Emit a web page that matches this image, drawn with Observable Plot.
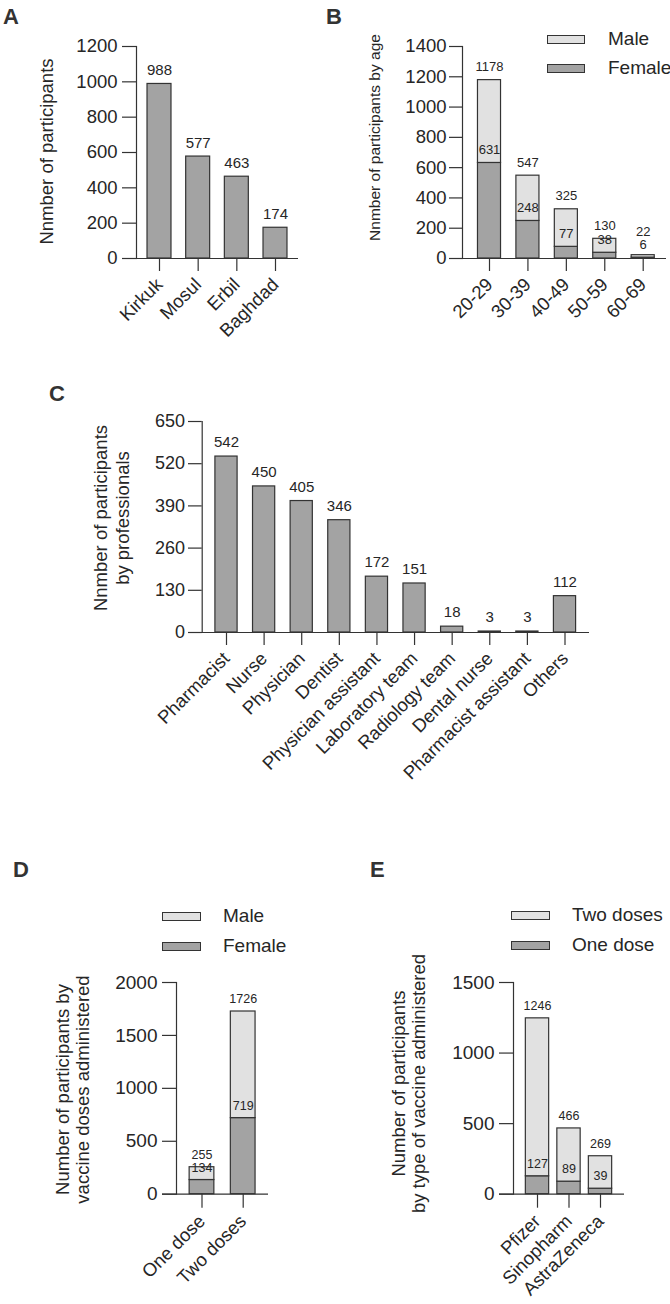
<!DOCTYPE html>
<html><head><meta charset="utf-8">
<script src="https://cdn.jsdelivr.net/npm/d3@7"></script>
<script src="https://cdn.jsdelivr.net/npm/@observablehq/plot@0.6"></script>
<style>
html,body{margin:0;padding:0;background:#fff;}
#root{position:relative;width:670px;height:1304px;overflow:hidden;font-family:"Liberation Sans",Arial,Helvetica,sans-serif;color:#262626;}
.panel{position:absolute;}
.panel svg{overflow:visible;}
.letter{position:absolute;font-weight:bold;font-size:22px;line-height:1;color:#333;}
.legitem{position:absolute;display:flex;align-items:center;white-space:nowrap;font-size:19px;height:24px;}
.sw{display:inline-block;box-sizing:border-box;border:1.2px solid #333;}
</style></head><body><div id="root"></div>
<script>
// ---------------- data ----------------
const cities = ["Kirkuk", "Mosul", "Erbil", "Baghdad"];
const cityCounts = [988, 577, 463, 174];

const ageGroups = ["20-29", "30-39", "40-49", "50-59", "60-69"];
const ageFemale = [631, 248, 77, 38, 6];
const ageMale = [547, 299, 248, 92, 16];

const professions = ["Pharmacist", "Nurse", "Physician", "Dentist", "Physician assistant", "Laboratory team", "Radiology team", "Dental nurse", "Pharmacist assistant", "Others"];
const professionCounts = [542, 450, 405, 346, 172, 151, 18, 3, 3, 112];

const doseGroups = ["One dose", "Two doses"];
const doseFemale = [134, 719];
const doseMale = [121, 1007];

const vaccines = ["Pfizer", "Sinopharm", "AstraZeneca"];
const vaccineOneDose = [127, 89, 39];
const vaccineTwoDoses = [1119, 377, 230];

const yTicksA = [0, 200, 400, 600, 800, 1000, 1200];
const yTicksB = [0, 200, 400, 600, 800, 1000, 1200, 1400];
const yTicksC = [0, 130, 260, 390, 520, 650];
const yTicksD = [0, 500, 1000, 1500, 2000];
const yTicksE = [0, 500, 1000, 1500];

// ---------------- style ----------------
const DARK = "#a3a3a3", LIGHT = "#e1e1e1", LINE = "#333333", INK = "#262626";
const FONT = '"Liberation Sans", Arial, Helvetica, sans-serif';
const root = document.getElementById("root");

function addPanel(o) {
  const rows = [];
  o.categories.forEach((c, i) => {
    o.series.forEach(s => rows.push({cat: c, series: s.name, value: s.values[i]}));
  });
  const pxPerUnit = (o.yBottom - o.yTop) / o.yMax;
  const gapUnits = 13 / pxPerUnit;
  const labels = [];
  o.categories.forEach((c, i) => {
    const total = d3.sum(o.series, s => s.values[i]);
    if (o.series.length > 1) {
      const bottom = o.series[0].values[i];
      labels.push({cat: c, y: bottom, text: String(bottom)});
      labels.push({cat: c, y: (total - bottom < gapUnits * 0.93) ? bottom + gapUnits : total, text: String(total)});
    } else {
      labels.push({cat: c, y: total, text: String(total)});
    }
  });
  const n = o.categories.length;
  const step = (o.cLast - o.cFirst) / (n - 1);
  const plot = Plot.plot({
    width: o.width, height: o.height,
    marginLeft: o.frameLeft - o.left,
    marginRight: o.left + o.width - o.frameRight,
    marginTop: o.yTop - o.top,
    marginBottom: o.top + o.height - o.yBottom,
    x: {domain: o.categories, range: [o.cFirst - o.left - step / 2, o.cLast - o.left + step / 2], paddingInner: o.pad, paddingOuter: o.pad / 2, round: false},
    y: {domain: [0, o.yMax]},
    color: {domain: o.series.map(s => s.name), range: o.series.map(s => s.fill)},
    style: {fontFamily: FONT, fontSize: o.xFont + "px", color: INK, background: "transparent", overflow: "visible"},
    marks: [
      Plot.barY(rows, {x: "cat", y: "value", fill: "series", stroke: LINE, strokeWidth: 1.2}),
      Plot.text(labels, {x: "cat", y: "y", text: "text", dy: o.labelDy, fontSize: o.labelFont, fill: INK}),
      Plot.frame({anchor: "left", stroke: LINE, strokeWidth: 1.2}),
      Plot.ruleY([0], {insetLeft: -o.yTickSize, stroke: LINE, strokeWidth: 1.2}),
      Plot.axisY(o.yTicks, {tickSize: o.yTickSize, tickPadding: o.yTickPad, tickFormat: "d", fontSize: o.yFont, label: null, stroke: LINE, strokeWidth: 1.2}),
      Plot.axisX({tickSize: o.xTickSize, tickRotate: -45, tickPadding: o.xTickPad, fontSize: o.xFont, label: null, stroke: LINE, strokeWidth: 1.2}),
      Plot.text([o.yLabel], {text: d => d, frameAnchor: "left", textAnchor: "middle", lineAnchor: "middle", rotate: -90, dx: o.yLabelX - o.frameLeft, dy: o.yLabelY - (o.yTop + o.yBottom) / 2, fontSize: o.yLabelFont, lineHeight: o.lineHeight || 1, fill: INK})
    ]
  });
  const div = document.createElement("div");
  div.className = "panel";
  div.style.left = o.left + "px";
  div.style.top = o.top + "px";
  div.appendChild(plot);
  root.appendChild(div);

  const L = document.createElement("div");
  L.className = "letter";
  L.textContent = o.letter;
  L.style.left = o.letterX + "px";
  L.style.top = (o.letterBaseline - 18.6) + "px";
  root.appendChild(L);

  if (o.legend) {
    o.legend.items.forEach(it => {
      const item = document.createElement("div");
      item.className = "legitem";
      item.style.left = o.legend.x + "px";
      item.style.top = (it.cy - 12) + "px";
      const sw = document.createElement("span");
      sw.className = "sw";
      sw.style.width = o.legend.w + "px";
      sw.style.height = o.legend.h + "px";
      sw.style.background = it.fill;
      sw.style.marginRight = o.legend.gap + "px";
      const t = document.createElement("span");
      t.textContent = it.name;
      item.appendChild(sw);
      item.appendChild(t);
      root.appendChild(item);
    });
  }
}

// Panel A
addPanel({
  letter: "A", letterX: 3, letterBaseline: 25,
  left: 0, top: 0, width: 335, height: 330,
  frameLeft: 136, frameRight: 298, yTop: 46, yBottom: 258, yMax: 1200, yTicks: yTicksA,
  categories: cities, series: [{name: "Participants", values: cityCounts, fill: DARK}],
  cFirst: 159, cLast: 275, pad: 0.38,
  labelFont: 15, labelDy: -13.5,
  yTickSize: 14, xTickSize: 13, yTickPad: 5, xTickPad: 10, yFont: 18.5, xFont: 18.5,
  yLabel: "Nnmber of participants", yLabelFont: 18.5, yLabelX: 47, yLabelY: 151
});

// Panel B
addPanel({
  letter: "B", letterX: 326, letterBaseline: 25,
  left: 335, top: 0, width: 335, height: 330,
  frameLeft: 462, frameRight: 666, yTop: 46, yBottom: 258, yMax: 1400, yTicks: yTicksB,
  categories: ageGroups,
  series: [{name: "Female", values: ageFemale, fill: DARK}, {name: "Male", values: ageMale, fill: LIGHT}],
  cFirst: 489, cLast: 642.7, pad: 0.4,
  labelFont: 13, labelDy: -13,
  yTickSize: 13, xTickSize: 13, yTickPad: 3, xTickPad: 10, yFont: 18.5, xFont: 18.5,
  yLabel: "Nnmber of participants by age", yLabelFont: 15.5, yLabelX: 375, yLabelY: 137,
  legend: {x: 547, w: 38, h: 9, gap: 23, items: [{name: "Male", fill: LIGHT, cy: 39}, {name: "Female", fill: DARK, cy: 68}]}
});

// Panel C
addPanel({
  letter: "C", letterX: 49, letterBaseline: 402,
  left: 0, top: 330, width: 670, height: 430,
  frameLeft: 201.7, frameRight: 589, yTop: 421, yBottom: 632, yMax: 650, yTicks: yTicksC,
  categories: professions, series: [{name: "Participants", values: professionCounts, fill: DARK}],
  cFirst: 226, cLast: 564.5, pad: 0.41,
  labelFont: 15, labelDy: -14,
  yTickSize: 13.7, xTickSize: 13, yTickPad: 3.5, xTickPad: 10, yFont: 18, xFont: 18.5,
  yLabel: "Nnmber of participants\nby professionals", yLabelFont: 18.5, lineHeight: 1.2, yLabelX: 110, yLabelY: 517.5
});

// Panel D
addPanel({
  letter: "D", letterX: 13, letterBaseline: 878,
  left: 0, top: 760, width: 335, height: 544,
  frameLeft: 176, frameRight: 268, yTop: 982, yBottom: 1193.7, yMax: 2000, yTicks: yTicksD,
  categories: doseGroups,
  series: [{name: "Female", values: doseFemale, fill: DARK}, {name: "Male", values: doseMale, fill: LIGHT}],
  cFirst: 201.5, cLast: 242.7, pad: 0.4,
  labelFont: 12.5, labelDy: -12.5,
  yTickSize: 14, xTickSize: 14, yTickPad: 5, xTickPad: 10, yFont: 19, xFont: 18.5,
  yLabel: "Number of participants by\nvaccine doses administered", yLabelFont: 18.5, lineHeight: 1.1, yLabelX: 72, yLabelY: 1089,
  legend: {x: 162, w: 39, h: 9, gap: 22, items: [{name: "Male", fill: LIGHT, cy: 916}, {name: "Female", fill: DARK, cy: 946}]}
});

// Panel E
addPanel({
  letter: "E", letterX: 370, letterBaseline: 878,
  left: 335, top: 760, width: 335, height: 544,
  frameLeft: 513, frameRight: 624, yTop: 982, yBottom: 1193.7, yMax: 1500, yTicks: yTicksE,
  categories: vaccines,
  series: [{name: "One dose", values: vaccineOneDose, fill: DARK}, {name: "Two doses", values: vaccineTwoDoses, fill: LIGHT}],
  cFirst: 537, cLast: 600, pad: 0.26,
  labelFont: 12.5, labelDy: -12.5,
  yTickSize: 14, xTickSize: 14, yTickPad: 5, xTickPad: 10, yFont: 19, xFont: 18.5,
  yLabel: "Number of participants\nby type of vaccine administered", yLabelFont: 18.5, lineHeight: 1.1, yLabelX: 408, yLabelY: 1083,
  legend: {x: 511, w: 39, h: 9, gap: 22, items: [{name: "Two doses", fill: LIGHT, cy: 915}, {name: "One dose", fill: DARK, cy: 945}]}
});
</script>
</body></html>
